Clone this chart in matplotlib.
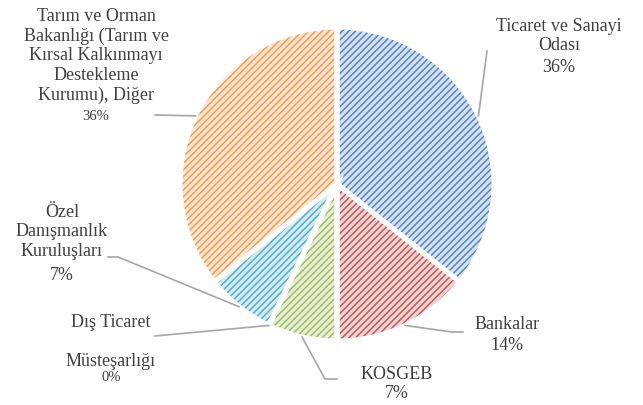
import numpy as np
import matplotlib.pyplot as plt
from matplotlib.colors import to_rgb

# data
names = ['Ticaret ve Sanayi\nOdası', 'Bankalar', 'KOSGEB',
         'Dış Ticaret\n\nMüsteşarlığı',
         'Özel\nDanışmanlık\nKuruluşları',
         'Tarım ve Orman\nBakanlığı (Tarım ve\nKırsal Kalkınmayı\nDestekleme\nKurumu), Diğer']
values = [5, 2, 1, 0, 1, 5]
pcts = ['36%', '14%', '7%', '0%', '7%', '36%']
colors = ['#4F81BD', '#C0504D', '#9BBB59', '#8064A2', '#4BACC6', '#F79646']

W, H = 643, 406
plt.rcParams['font.family'] = 'Liberation Serif'
plt.rcParams['hatch.linewidth'] = 1.1

def px(x, y):
    return (x, H - y)

def tint(c, f):
    r = np.array(to_rgb(c))
    return tuple(r + (1 - r) * f)

fig = plt.figure(figsize=(W / 100, H / 100), dpi=100)
ax = fig.add_axes([0, 0, 1, 1])

cx, cy = px(337, 185)
R = 157
wedges, _ = ax.pie(values, colors=[tint(c, 0.76) for c in colors], startangle=90,
                   counterclock=False, center=(cx, cy), radius=R, frame=True,
                   wedgeprops=dict(linewidth=0, hatch='/////'))
for w, c in zip(wedges, colors):
    w.set_edgecolor(tint(c, 0.05))
    w.set_linewidth(0)
ax.pie(values, colors=['none'] * 6, startangle=90, counterclock=False,
       center=(cx, cy), radius=R, frame=True,
       wedgeprops=dict(linewidth=3.6, edgecolor='white'))
ax.set_xlim(0, W)
ax.set_ylim(0, H)
ax.axis('off')

# label layout (pixel coords)
name_pos = [(559, 36), (507, 325), (397, 375), (111, 342), (62, 232), (96, 56)]
pct_pos = [(559, 68), (507, 346), (397, 394), (111, 378), (62, 276), (96, 117)]
pct_size = [13, 13, 13, 10.5, 13, 10.5]
leader = [[(487, 52)], [(463, 333), (452, 333)], [(337, 380), (325, 380)],
          [(155, 337)], [(108, 258), (118, 258)], [(155, 116)]]

tc = '#404040'
for i, w in enumerate(wedges):
    ax.text(*px(*name_pos[i]), names[i], ha='center', va='center', fontsize=13,
            color=tc, linespacing=1.18)
    ax.text(*px(*pct_pos[i]), pcts[i], ha='center', va='center',
            fontsize=pct_size[i], color=tc)
    mid = np.deg2rad((w.theta1 + w.theta2) / 2)
    anchor = (cx + R * np.cos(mid), cy + R * np.sin(mid))
    pts = [px(*p) for p in leader[i]] + [anchor]
    ax.plot([p[0] for p in pts], [p[1] for p in pts], color='#A6A6A6', lw=1.2)

fig.savefig('out.png', dpi=100)
